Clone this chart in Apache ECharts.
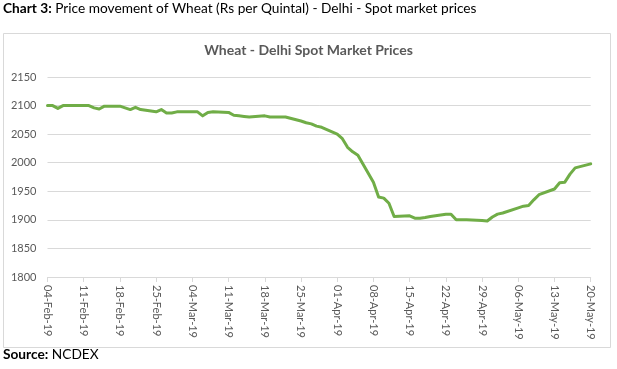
<!DOCTYPE html>
<html>
<head>
<meta charset="utf-8">
<script src="https://cdn.jsdelivr.net/npm/echarts@6/dist/echarts.min.js"></script>
<style>
  html, body { margin: 0; padding: 0; background: #fff; }
  #chart { width: 617px; height: 369px; }
</style>
</head>
<body>
<div id="chart"></div>
<script>
// Trading dates (spot market), Wheat - Delhi
const dates = [
  '2019-02-04','2019-02-05','2019-02-06','2019-02-07','2019-02-08',
  '2019-02-11','2019-02-12','2019-02-13','2019-02-14','2019-02-15',
  '2019-02-18','2019-02-19','2019-02-20','2019-02-21','2019-02-22',
  '2019-02-25','2019-02-26','2019-02-27','2019-02-28','2019-03-01',
  '2019-03-04','2019-03-05','2019-03-06','2019-03-07','2019-03-08',
  '2019-03-11','2019-03-12','2019-03-13','2019-03-14','2019-03-15',
  '2019-03-18','2019-03-19','2019-03-20','2019-03-21','2019-03-22',
  '2019-03-25','2019-03-26','2019-03-27','2019-03-28','2019-03-29',
  '2019-04-01','2019-04-02','2019-04-03','2019-04-04','2019-04-05',
  '2019-04-08','2019-04-09','2019-04-10','2019-04-11','2019-04-12',
  '2019-04-15','2019-04-16','2019-04-17','2019-04-18','2019-04-19',
  '2019-04-22','2019-04-23','2019-04-24','2019-04-25','2019-04-26',
  '2019-04-29','2019-04-30','2019-05-01','2019-05-02','2019-05-03',
  '2019-05-06','2019-05-07','2019-05-08','2019-05-09','2019-05-10',
  '2019-05-13','2019-05-14','2019-05-15','2019-05-16','2019-05-17',
  '2019-05-20'
];
// Prices, Rs per Quintal
const prices = [
  2100, 2100, 2095, 2100, 2100,
  2100, 2100, 2096, 2094, 2099,
  2099, 2096, 2093, 2097, 2093,
  2089, 2093, 2087, 2087, 2089,
  2089, 2089, 2082, 2088, 2089,
  2088, 2083, 2082, 2081, 2080,
  2082, 2080, 2080, 2080, 2080,
  2073, 2070, 2068, 2064, 2062,
  2050, 2042, 2027, 2019, 2013,
  1966, 1940, 1938, 1929, 1906,
  1907, 1903, 1903, 1904, 1906,
  1910, 1910, 1900, 1900, 1900,
  1899, 1898, 1905, 1910, 1912,
  1921, 1924, 1925, 1935, 1944,
  1954, 1965, 1966, 1980, 1991,
  1998
];
// Weekly axis tick labels
const tickLabels = [
  '04-Feb-19','11-Feb-19','18-Feb-19','25-Feb-19','04-Mar-19','11-Mar-19',
  '18-Mar-19','25-Mar-19','01-Apr-19','08-Apr-19','15-Apr-19','22-Apr-19',
  '29-Apr-19','06-May-19','13-May-19','20-May-19'
];
const startDate = '2019-02-04';

function dayOffset(s) {
  const p = s.split('-').map(Number);
  const q = startDate.split('-').map(Number);
  return Math.round((Date.UTC(p[0], p[1] - 1, p[2]) - Date.UTC(q[0], q[1] - 1, q[2])) / 86400000);
}
const seriesData = dates.map((d, i) => [dayOffset(d), prices[i]]);
const lastDay = dayOffset(dates[dates.length - 1]);

const FONT = 'Lato';
const chart = echarts.init(document.getElementById('chart'), null, { renderer: 'canvas' });
chart.setOption({
  animation: false,
  backgroundColor: '#ffffff',
  title: [
    {
      text: '{b|Chart 3:} Price movement of Wheat (Rs per Quintal) - Delhi - Spot market prices',
      left: 3, top: 2, padding: 0,
      textStyle: {
        fontFamily: FONT, fontSize: 13.7, fontWeight: 'normal', color: '#000000',
        rich: { b: { fontFamily: FONT, fontSize: 13.7, fontWeight: 'bold', color: '#000000' } }
      }
    },
    {
      text: 'Wheat - Delhi Spot Market Prices',
      left: 'center', top: 43, padding: 0,
      textStyle: { fontFamily: FONT, fontSize: 14, fontWeight: 'bold', color: '#595959' }
    },
    {
      text: '{b|Source:} NCDEX',
      left: 3, top: 348, padding: 0,
      textStyle: {
        fontFamily: FONT, fontSize: 13.7, fontWeight: 'normal', color: '#000000',
        rich: { b: { fontFamily: FONT, fontSize: 13.7, fontWeight: 'bold', color: '#000000' } }
      }
    }
  ],
  graphic: [
    {
      type: 'rect', silent: true, z: -1,
      shape: { x: 3.5, y: 33.5, width: 607, height: 314 },
      style: { fill: null, stroke: '#d9d9d9', lineWidth: 1 }
    }
  ],
  grid: { left: 47.5, right: 26.3, top: 77, bottom: 92, outerBoundsMode: 'none' },
  xAxis: {
    type: 'value',
    min: 0, max: lastDay, interval: 7,
    axisLine: { show: true, lineStyle: { color: '#d9d9d9', width: 1 } },
    axisTick: { show: true, length: 5, lineStyle: { color: '#d9d9d9' } },
    splitLine: { show: false },
    axisLabel: {
      rotate: -90, margin: 8,
      fontFamily: FONT, fontSize: 11, color: '#595959',
      formatter: v => tickLabels[Math.round(v / 7)] || ''
    }
  },
  yAxis: {
    type: 'value',
    min: 1800, max: 2150, interval: 50,
    axisLine: { show: false },
    axisTick: { show: false },
    splitLine: { show: true, lineStyle: { color: '#d9d9d9', width: 1 } },
    axisLabel: {
      margin: 11, fontFamily: FONT, fontSize: 11, color: '#595959',
      formatter: v => String(v)
    }
  },
  series: [
    {
      type: 'line',
      data: seriesData,
      showSymbol: false,
      smooth: false,
      lineStyle: { color: '#70ad47', width: 3, join: 'round', cap: 'round' },
      itemStyle: { color: '#70ad47' }
    }
  ]
});
</script>
</body>
</html>
